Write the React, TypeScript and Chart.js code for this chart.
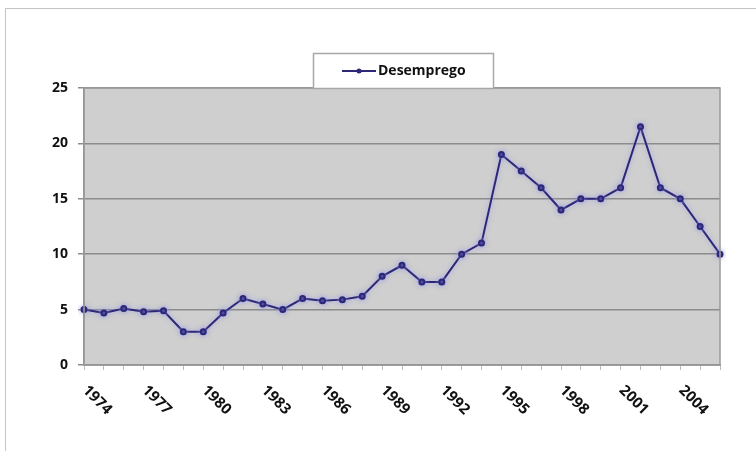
import React, { useEffect, useRef } from "react";
import { Chart, registerables } from "chart.js";

Chart.register(...registerables);

const years: string[] = [
  "1974", "1975", "1976", "1977", "1978", "1979", "1980", "1981", "1982", "1983",
  "1984", "1985", "1986", "1987", "1988", "1989", "1990", "1991", "1992", "1993",
  "1994", "1995", "1996", "1997", "1998", "1999", "2000", "2001", "2002", "2003",
  "2004", "2005", "2006",
];

const desemprego: number[] = [
  5.0, 4.7, 5.1, 4.8, 4.9, 3.0, 3.0, 4.7, 6.0, 5.5,
  5.0, 6.0, 5.8, 5.9, 6.2, 8.0, 9.0, 7.5, 7.5, 10.0,
  11.0, 19.0, 17.5, 16.0, 14.0, 15.0, 15.0, 16.0, 21.5, 16.0,
  15.0, 12.5, 10.0,
];

const xTickLabels: string[] = ["1974", "1977", "1980", "1983", "1986", "1989", "1992", "1995", "1998", "2001", "2004"];
const yTicks: number[] = [0, 5, 10, 15, 20, 25];

const seriesLabel = "Desemprego";
const FONT = "'Open Sans', 'Liberation Sans', sans-serif";
const LINE_COLOR = "#2c2777";

const decorPlugin = {
  id: "decor",
  beforeDraw(chart: any) {
    const ctx = chart.ctx;
    const a = chart.chartArea;
    ctx.save();
    ctx.strokeStyle = "#c4c4c4";
    ctx.lineWidth = 1;
    ctx.strokeRect(5.5, 8.5, 900, 900);
    ctx.fillStyle = "#cfcfcf";
    ctx.fillRect(a.left, a.top, a.right - a.left, a.bottom - a.top);
    ctx.restore();
  },
  beforeDatasetsDraw(chart: any) {
    const ctx = chart.ctx;
    ctx.save();
    ctx.shadowColor = "rgba(150,150,235,0.75)";
    ctx.shadowBlur = 5;
  },
  afterDatasetsDraw(chart: any) {
    chart.ctx.restore();
  },
  afterDraw(chart: any) {
    const ctx = chart.ctx;
    const a = chart.chartArea;
    const xs = chart.scales.x;
    ctx.save();
    ctx.strokeStyle = "#9a9a9a";
    ctx.lineWidth = 1.5;
    ctx.strokeRect(a.left, a.top, a.right - a.left, a.bottom - a.top);

    ctx.fillStyle = "#111";
    ctx.font = `bold 15px ${FONT}`;
    ctx.textAlign = "left";
    ctx.textBaseline = "middle";
    for (const lab of xTickLabels) {
      const idx = years.indexOf(lab);
      if (idx < 0) continue;
      const x = xs.getPixelForValue(idx);
      ctx.save();
      ctx.translate(x + 1, a.bottom + 23);
      ctx.rotate(Math.PI / 4);
      ctx.fillText(lab, 0, 0);
      ctx.restore();
    }

    const bx = 313, by = 53, bw = 180, bh = 35;
    ctx.fillStyle = "#ffffff";
    ctx.fillRect(bx, by, bw, bh);
    ctx.strokeStyle = "#a8a8a8";
    ctx.lineWidth = 1.5;
    ctx.strokeRect(bx + 0.5, by + 0.5, bw, bh);
    const ly = 71;
    ctx.strokeStyle = LINE_COLOR;
    ctx.lineWidth = 2;
    ctx.beginPath();
    ctx.moveTo(342, ly);
    ctx.lineTo(376, ly);
    ctx.stroke();
    ctx.fillStyle = LINE_COLOR;
    ctx.beginPath();
    ctx.arc(359, ly, 2.5, 0, Math.PI * 2);
    ctx.fill();
    ctx.fillStyle = "#111";
    ctx.font = `bold 14px ${FONT}`;
    ctx.textAlign = "left";
    ctx.textBaseline = "middle";
    ctx.fillText(seriesLabel, 378, ly);
    ctx.restore();
  },
};

export default function App() {
  const ref = useRef<HTMLCanvasElement | null>(null);
  useEffect(() => {
    if (!ref.current) return;
    const chart = new Chart(ref.current, {
      type: "line",
      data: {
        labels: years,
        datasets: [
          {
            label: seriesLabel,
            data: desemprego,
            borderColor: LINE_COLOR,
            backgroundColor: LINE_COLOR,
            borderWidth: 2,
            pointStyle: "circle",
            pointRadius: 2.5,
            pointBackgroundColor: LINE_COLOR,
            pointBorderColor: LINE_COLOR,
            tension: 0,
          },
        ],
      },
      options: {
        animation: false,
        responsive: true,
        maintainAspectRatio: false,
        layout: { padding: { top: 88, right: 36, left: 0, bottom: 0 } },
        plugins: {
          legend: { display: false },
          tooltip: { enabled: false },
          title: { display: false },
        },
        scales: {
          x: {
            type: "category",
            offset: false,
            grid: {
              drawOnChartArea: false,
              drawTicks: true,
              tickLength: 5,
              color: "#bdbdbd",
            },
            border: { display: true, color: "#8a8a8a", width: 1.5 },
            ticks: { display: false, autoSkip: false },
            afterFit: (s: any) => {
              s.height = 86;
            },
          },
          y: {
            min: 0,
            max: 25,
            afterBuildTicks: (s: any) => {
              s.ticks = yTicks.map((v) => ({ value: v }));
            },
            grid: {
              color: "#8c8c8c",
              lineWidth: 1.5,
              drawTicks: true,
              tickLength: 6,
            },
            border: { display: true, color: "#8a8a8a", width: 1.5 },
            ticks: {
              color: "#111",
              font: { family: FONT, size: 14, weight: "bold" },
              padding: 10,
            },
            afterFit: (s: any) => {
              s.width = 84;
            },
          },
        },
      },
      plugins: [decorPlugin],
    });
    return () => chart.destroy();
  }, []);

  return (
    <div style={{ position: "absolute", left: 0, top: 0, width: 756, height: 451, background: "#fff" }}>
      <canvas ref={ref} />
    </div>
  );
}
